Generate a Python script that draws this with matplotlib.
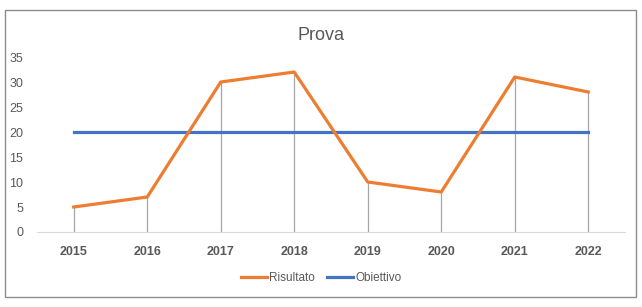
import matplotlib.pyplot as plt
from matplotlib.patches import Rectangle

anni = ['2015', '2016', '2017', '2018', '2019', '2020', '2021', '2022']
risultato = [5, 7, 30, 32, 10, 8, 31, 28]
obiettivo = [20, 20, 20, 20, 20, 20, 20, 20]

plt.rcParams['font.family'] = ['Liberation Sans', 'DejaVu Sans']

fig = plt.figure(figsize=(6.42, 3.07), dpi=100)
ax = fig.add_axes([0.0576, 0.2443, 0.9159, 0.57])

x = range(len(anni))
# linee verticali dai punti all'asse
ax.vlines(x, 0, risultato, color='#A6A6A6', lw=0.9, zorder=1)
ax.plot(x, risultato, color='#ED7D31', lw=2.3, label='Risultato', zorder=3)
ax.plot(x, obiettivo, color='#4472C4', lw=2.3, label='Obiettivo', zorder=2)

ax.set_xlim(-0.5, len(anni) - 0.5)
ax.set_ylim(0, 35)
ax.set_yticks(range(0, 36, 5))
ax.set_xticks(list(x))
ax.set_xticklabels(anni, fontweight='bold')
ax.tick_params(axis='both', length=0, colors='#595959', labelsize=9)
ax.tick_params(axis='x', pad=10)
ax.tick_params(axis='y', pad=10)
for s in ['top', 'right', 'left']:
    ax.spines[s].set_visible(False)
ax.spines['bottom'].set_color('#D9D9D9')

fig.text(0.5, 0.885, 'Prova', ha='center', va='center', fontsize=13, color='#595959')

fig.legend(loc='center', bbox_to_anchor=(0.5, 0.095), ncol=2, frameon=False,
           fontsize=8.5, handlelength=2.2, columnspacing=1.0, handletextpad=0.2,
           labelcolor='#595959')

fig.patches.append(Rectangle((5 / 642, 10 / 307), 631 / 642, 287 / 307,
                             transform=fig.transFigure, fill=False,
                             edgecolor='#8C8C8C', lw=1))

fig.savefig('out.png', dpi=100)
